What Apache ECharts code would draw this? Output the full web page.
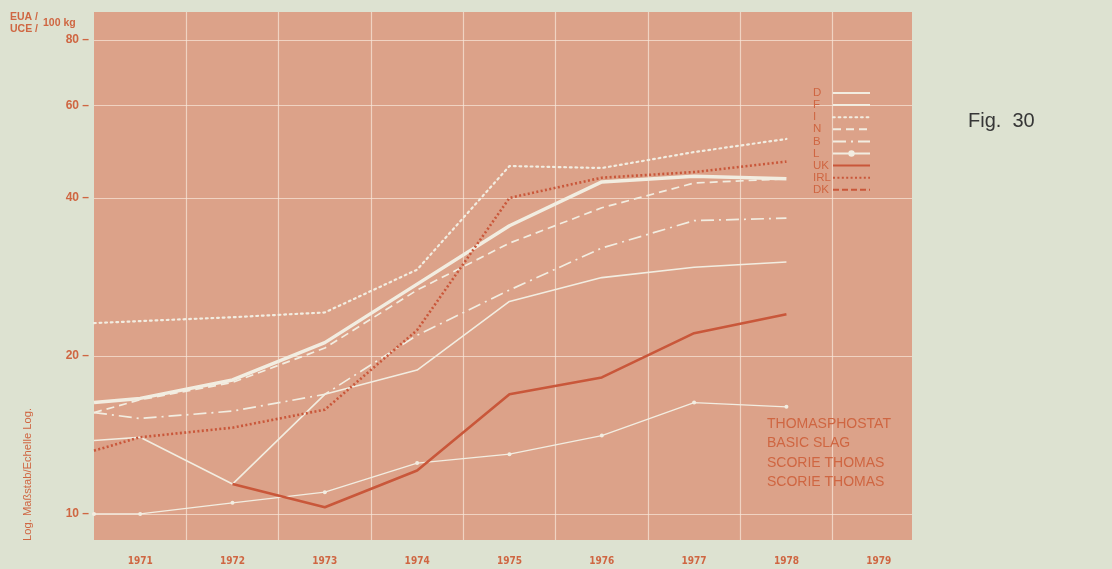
<!DOCTYPE html>
<html><head><meta charset="utf-8">
<script src="https://cdn.jsdelivr.net/npm/echarts@6/dist/echarts.min.js"></script>
<style>html,body{margin:0;padding:0;background:#dde2d1;}#c{width:1112px;height:569px;}</style>
</head><body><div id="c"></div>
<script>
// ---- data (EUA/UCE per 100 kg, log scale) ----
const years = [1970.5, 1971, 1972, 1973, 1974, 1975, 1976, 1977, 1978];
const seriesNames = ['D', 'F', 'I', 'N', 'B', 'L', 'UK', 'IRL', 'DK'];
const valD   = [16.3, 16.6, 18.0, 21.2, 27.4, 35.4, 42.9, 44.0, 43.5];
const valF   = [13.8, 14.0, 11.4, 16.9, 18.8, 25.4, 28.2, 29.5, 30.2];
const valI   = [23.1, 23.3, 23.7, 24.2, 29.2, 46.0, 45.6, 48.9, 51.8];
const valN   = [15.6, 16.5, 17.8, 20.7, 26.7, 32.8, 38.3, 42.7, 43.5];
const valB   = [15.6, 15.2, 15.7, 16.9, 21.9, 26.7, 32.1, 36.2, 36.6];
const valL   = [10.0, 10.0, 10.5, 11.0, 12.5, 13.0, 14.1, 16.3, 16.0];
const valUK  = [null, null, 11.4, 10.3, 12.1, 16.9, 18.2, 22.1, 24.0];
const valIRL = [13.2, 14.0, 14.6, 15.8, 22.4, 40.0, 43.7, 44.8, 46.9];
const valDK  = [];
const yTicks = [10, 20, 40, 60, 80];
const xLabels = [1971, 1972, 1973, 1974, 1975, 1976, 1977, 1978, 1979];
const productNames = ['THOMASPHOSTAT', 'BASIC SLAG', 'SCORIE THOMAS', 'SCORIE THOMAS'];

// ---- styling ----
const W = '#f2ede1', OR = '#c9573a', TX = '#cf6642';
const values = {D: valD, F: valF, I: valI, N: valN, B: valB, L: valL, UK: valUK, IRL: valIRL, DK: valDK};
const styles = {
  D:   {color: W,  width: 3.5, type: 'solid'},
  F:   {color: W,  width: 1.6, type: 'solid'},
  I:   {color: W,  width: 2.2, type: [1.8, 3.8], cap: 'round'},
  N:   {color: W,  width: 1.7, type: [8, 5]},
  B:   {color: W,  width: 1.7, type: [13, 5, 2, 5]},
  L:   {color: W,  width: 1.3, type: 'solid', symbol: true},
  UK:  {color: OR, width: 2.6, type: 'solid'},
  IRL: {color: OR, width: 2.6, type: [2, 2.4]},
  DK:  {color: OR, width: 2.4, type: [6, 3]}
};
const gridYears = xLabels.slice(0, -1).map(y => y + 0.5);

function pts(vals) {
  return years.map((y, i) => [y, vals[i]]).filter(p => p[1] != null);
}

const series = seriesNames.map(n => {
  const s = styles[n];
  return {
    name: n, type: 'line', data: pts(values[n]),
    symbol: 'circle', symbolSize: 4, showSymbol: !!s.symbol,
    itemStyle: {color: s.color},
    lineStyle: {color: s.color, width: s.width, type: s.type, cap: s.cap || 'butt'},
    color: s.color, animation: false, clip: true,
    z: s.color === OR ? 4 : 3
  };
});

const legendData = seriesNames.map(n => styles[n].symbol
  ? {name: n, itemStyle: {opacity: 1}}
  : {name: n});

const chart = echarts.init(document.getElementById('c'));
chart.setOption({
  backgroundColor: '#dde2d1',
  animation: false,
  grid: {left: 94, right: 200, top: 12, bottom: 29, show: true, backgroundColor: '#dca289', borderWidth: 0},
  xAxis: {
    type: 'value', min: 1970.5, max: 1979.36,
    axisLine: {show: false},
    axisTick: {show: false, customValues: gridYears},
    axisLabel: {customValues: xLabels, formatter: v => String(v), color: TX, fontSize: 10, fontWeight: 'bold',
      fontFamily: 'Liberation Sans Narrow, DejaVu Sans Condensed, sans-serif', margin: 16},
    splitLine: {show: true, lineStyle: {color: 'rgba(248,232,218,0.7)', width: 1.2}}
  },
  yAxis: {
    type: 'log', min: 8.92, max: 90.4,
    axisLine: {show: false},
    axisTick: {show: false, customValues: yTicks},
    axisLabel: {customValues: yTicks, formatter: v => v + ' \u2013', color: TX, fontSize: 12,
      fontWeight: 'bold', fontFamily: 'Liberation Sans, Arial, sans-serif', margin: 5},
    splitLine: {show: true, lineStyle: {color: 'rgba(248,232,218,0.7)', width: 1.2}}
  },
  legend: {
    orient: 'vertical', left: 813, top: 87, align: 'right', padding: 0,
    itemWidth: 37, itemHeight: 8, itemGap: 0.1,
    data: legendData,
    itemStyle: {opacity: 0},
    formatter: n => '{n|' + n + '}',
    textStyle: {color: TX, fontSize: 11.5, fontFamily: 'Liberation Sans, Arial, sans-serif',
      rich: {n: {width: 15, align: 'left', color: TX, fontSize: 11.5, lineHeight: 11}}},
    inactiveColor: '#ccc'
  },
  graphic: [
    {type: 'text', left: 10, top: 12, style: {text: 'EUA /', fill: TX, font: 'bold 10.5px Liberation Sans, Arial, sans-serif'}},
    {type: 'text', left: 10, top: 24, style: {text: 'UCE /', fill: TX, font: 'bold 10.5px Liberation Sans, Arial, sans-serif'}},
    {type: 'text', left: 43, top: 18, style: {text: '100 kg', fill: TX, font: 'bold 10.5px Liberation Sans, Arial, sans-serif'}},
    {type: 'text', x: 22, y: 541, rotation: Math.PI / 2,
      style: {text: 'Log. Maßstab/Echelle Log.', fill: TX, font: '11.2px Liberation Sans, Arial, sans-serif'}},
    {type: 'text', left: 968, top: 111, style: {text: 'Fig.  30', fill: '#363636', font: '20px Liberation Sans, Arial, sans-serif'}},
    ...productNames.map((t, i) => ({type: 'text', left: 767, top: 417 + i * 19.5, z: 10,
      style: {text: t, fill: TX, font: '14px Liberation Sans, Arial, sans-serif'}}))
  ],
  series: series
});
</script></body></html>
